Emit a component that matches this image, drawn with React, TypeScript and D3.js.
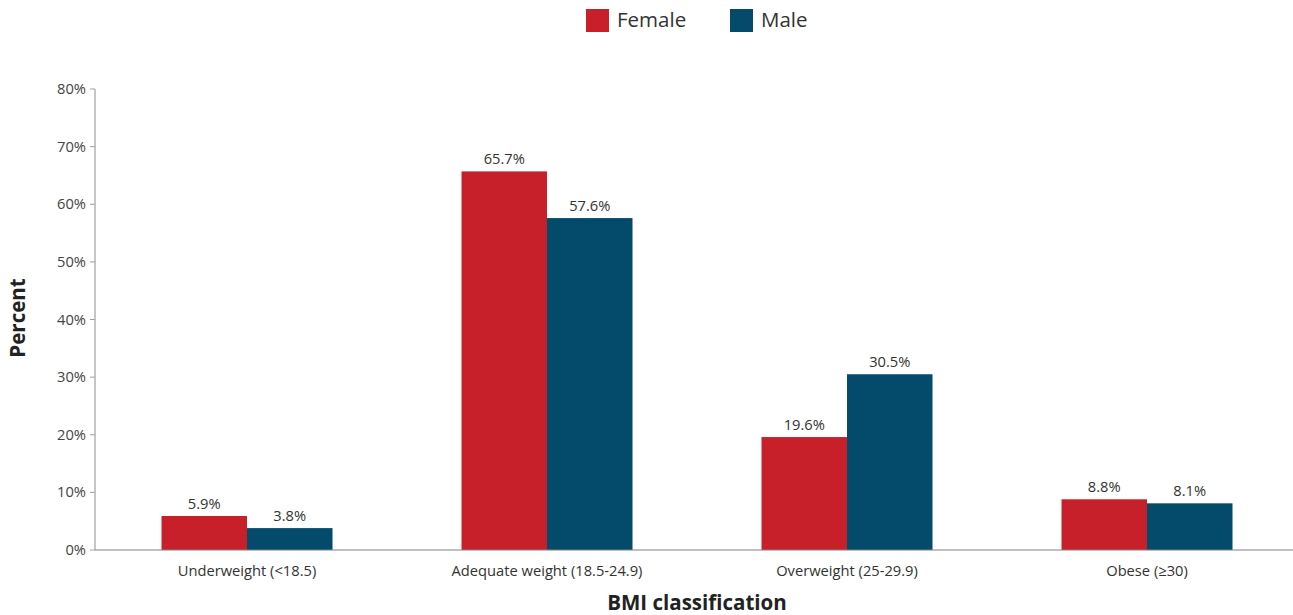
import React from "react";
import * as d3 from "d3";

const categories = ["Underweight (<18.5)", "Adequate weight (18.5-24.9)", "Overweight (25-29.9)", "Obese (≥30)"];
const seriesNames = ["Female", "Male"];
const female = [5.9, 65.7, 19.6, 8.8];
const male = [3.8, 57.6, 30.5, 8.1];
const yTicks = [0, 10, 20, 30, 40, 50, 60, 70, 80];
const colors = ["#C8202A", "#044A6B"];

export default function App() {
  const W = 1293, H = 615;
  const left = 95, right = 1293, top = 89, bottom = 550;
  const x = d3.scaleBand<string>().domain(categories).range([97, 1297]).padding(0);
  const y = d3.scaleLinear().domain([0, 80]).range([bottom, top]);
  const groupW = 171;
  const xs = d3.scaleBand<string>().domain(seriesNames).range([0, groupW]).padding(0);
  const series = [female, male];
  const font = "'Open Sans', sans-serif";
  return (
    <svg width={W} height={H} style={{ position: "absolute", left: 0, top: 0, fontFamily: font }}>
      {/* legend */}
      <rect x={586} y={9} width={23} height={23} fill={colors[0]} />
      <text x={617} y={27} fontSize={20.5} fill="#333">Female</text>
      <rect x={730} y={9} width={23} height={23} fill={colors[1]} />
      <text x={761} y={27} fontSize={20.5} fill="#333">Male</text>

      {/* y axis */}
      <line x1={left} x2={left} y1={top} y2={bottom} stroke="#a0a0a0" strokeWidth={1.2} />
      {yTicks.map((t) => (
        <g key={t}>
          <line x1={left - 5} x2={left} y1={y(t)} y2={y(t)} stroke="#a0a0a0" />
          <text x={left - 9} y={y(t) + 5} textAnchor="end" fontSize={14.7} fill="#444">{t}%</text>
        </g>
      ))}

      {/* bars */}
      {categories.map((c, i) => {
        const gx = (x(c) as number) + (x.bandwidth() - groupW) / 2;
        return (
          <g key={c}>
            {series.map((s, j) => {
              const bx = gx + (xs(seriesNames[j]) as number);
              const bw = xs.bandwidth();
              return (
                <g key={j}>
                  <rect x={bx} y={y(s[i])} width={bw} height={bottom - y(s[i])} fill={colors[j]} />
                  <text x={bx + bw / 2} y={y(s[i]) - 7} textAnchor="middle" fontSize={14.7} fill="#333">{s[i].toFixed(1)}%</text>
                </g>
              );
            })}
            <text x={(x(c) as number) + x.bandwidth() / 2} y={576} textAnchor="middle" fontSize={14.7} fill="#333">{c}</text>
          </g>
        );
      })}

      {/* x axis */}
      <line x1={left} x2={right} y1={bottom} y2={bottom} stroke="#808080" strokeWidth={1.2} />

      {/* titles */}
      <text x={697} y={610} textAnchor="middle" fontSize={20.5} fontWeight="bold" fill="#222">BMI classification</text>
      <text transform={`translate(25,318) rotate(-90)`} textAnchor="middle" fontSize={20.5} fontWeight="bold" fill="#222">Percent</text>
    </svg>
  );
}
